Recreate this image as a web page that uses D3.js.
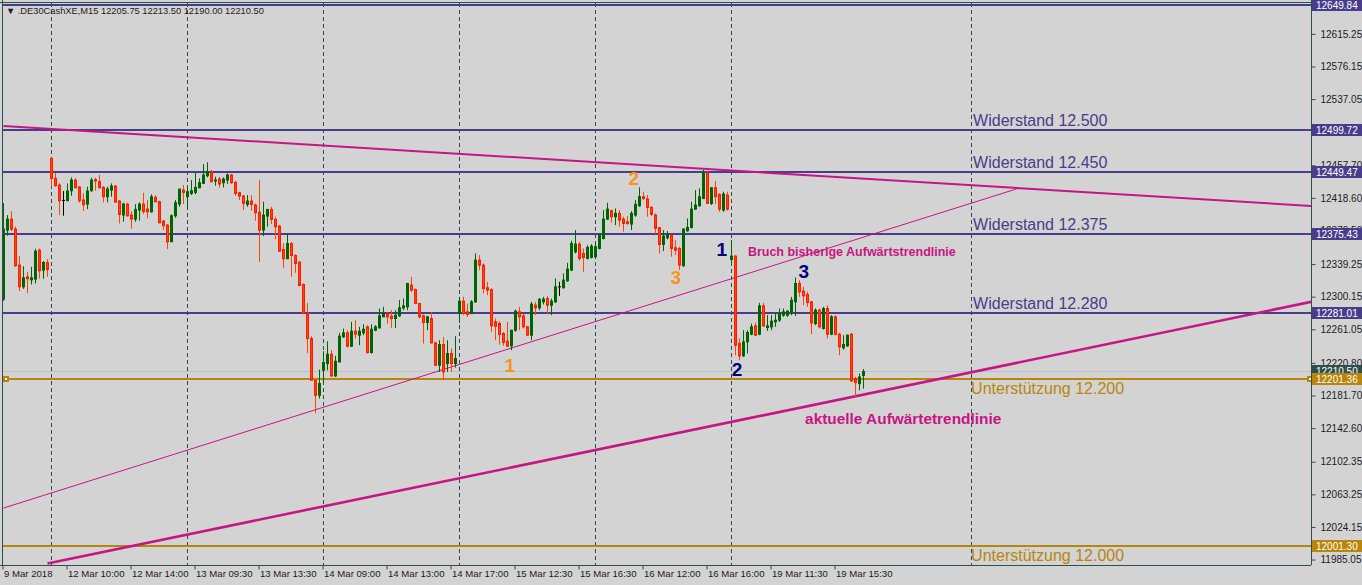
<!DOCTYPE html>
<html><head><meta charset="utf-8">
<script src="https://cdn.jsdelivr.net/npm/d3@7"></script>
<style>
html,body{margin:0;padding:0;background:#d3d3d3;overflow:hidden}
text{font-family:"Liberation Sans",Arial,sans-serif}
</style>
</head><body>
<svg id="chart" width="1362" height="585"></svg>
<script>
// ---------- DATA (DE30, M15) ----------
const opens=[
12297.2,12380,12393.2,12381.2,12338,12312,12324,12320.4,12321.2,12356,12332,12341.2,
12466,12442,12434,12415.6,12415.2,12427.2,12440,12431.6,12416,12411.2,12427.2,12440.4,
12438,12431.2,12420,12428,12432.8,12414.8,12398,12411.2,12398,12393.2,12404,12411.2,
12405.2,12402,12419.2,12414,12390.8,12386,12366,12397.2,12411.2,12428,12420,12424,
12425.2,12430.8,12436,12445.2,12450,12438.8,12441.2,12436.8,12440,12446,12437.2,12424.8,
12420.8,12410.8,12414.8,12410,12401.2,12380,12396.8,12404.8,12392.8,12384.8,12356.8,12345.6,
12364,12349.6,12341.6,12314.8,12280,12250,12200,12182,12212,12220,12231.2,12205.2,
12222,12252,12256.8,12240.8,12258.8,12254,12256.8,12264,12233.2,12260,12262.8,12276,
12280,12276.8,12274,12277.2,12286.8,12288,12314,12308.8,12292,12277.2,12269.2,12274,
12244.8,12218,12242.8,12220,12232,12220,12280,12294.8,12282,12280,12294,12344,
12338,12310.8,12308.8,12270,12268,12256,12246.8,12241.2,12260,12282,12277.2,12264,
12254,12290,12286.8,12294,12298,12290,12294,12312,12310.8,12319.2,12332,12354,
12363.2,12352,12346,12347.2,12348,12358,12370,12393.2,12403.2,12396,12400,12393.2,
12390,12387.2,12398,12409.2,12420,12417.2,12407.2,12398,12382.8,12362.8,12370.8,12374,
12358.8,12358,12337.2,12379.2,12383.2,12405.2,12409.2,12418,12448,12412,12430.8,12422.8,
12404,12422,12344.8,12348.8,12244,12229.2,12246,12255.2,12265.2,12255.2,12289.2,12263.2,
12264,12270,12272,12278,12278,12282,12294,12316,12306.8,12302.8,12294,12268,
12284,12262,12286,12255.2,12276,12255.2,12238.8,12241.2,12255.2,12202,12196,12205.75];
const highs=[
12412.4,12398,12402.8,12384,12348.8,12336.8,12330,12336,12357.6,12358,12342.8,12345.2,
12468,12448.8,12436,12426.8,12436,12443.2,12442,12432.8,12424,12432,12442.8,12442.8,
12446,12432.8,12432,12436,12434,12416,12412.8,12412.8,12402.8,12411.2,12413.2,12424.8,
12416,12422.8,12422,12415.2,12392,12387.2,12398.8,12416,12429.2,12434,12432,12440,
12448.8,12442,12459.2,12461.2,12452,12444,12444,12443.2,12448,12447.2,12439.2,12426,
12422,12422,12422,12412,12440,12414,12404.8,12408,12396,12386,12364,12375.2,
12365.6,12350.8,12342.8,12316,12292.8,12252.8,12200,12212.8,12234.8,12246.8,12236,12229.2,
12256.8,12262,12260,12270,12272,12264,12267.2,12266,12267.2,12266,12286,12288,
12281.2,12284,12284,12296,12298,12316.8,12324,12310,12292.8,12278.8,12277.2,12282,
12246,12248,12252,12248,12238,12252.8,12300,12300,12292,12296,12352,12350,
12340,12318,12310,12274,12270.8,12258,12270,12260,12284.8,12288,12280,12265.2,
12294,12294,12298,12300,12301.2,12298,12322,12318,12328,12340.8,12367.2,12380,
12366,12358,12362,12363.2,12363.2,12376,12404,12412.8,12404.8,12406,12404,12396,
12396.8,12402.8,12416,12431.2,12426,12422,12408.8,12400,12384,12380,12378.8,12374.8,
12368,12360,12382,12394,12414,12428,12430,12452,12450,12430.8,12438.8,12424,
12426,12426,12368,12350,12250,12260,12260,12268,12269.2,12292.8,12292.8,12278,
12278,12280,12286,12286,12284,12300,12323.2,12320,12312,12306,12294.8,12286,
12286,12288,12290,12278,12278,12256.8,12254,12254.8,12256.8,12204,12208,12213.5];
const lows=[
12295.2,12373.2,12378.8,12336,12306.8,12309.6,12304.4,12314.8,12316,12322,12321.6,12324,
12432,12432,12398,12397.2,12415.2,12421.2,12430,12412.8,12402.8,12405.2,12426,12427.2,
12430,12413.2,12413.2,12420,12412.8,12388,12390,12396,12381.6,12390,12391.2,12399.2,
12394,12400.8,12413.2,12388,12380,12357.2,12366,12394.8,12408,12411.2,12406,12422,
12422.8,12430,12435.2,12443.2,12437.2,12433.2,12430.8,12431.2,12435.2,12435.2,12421.2,12416,
12404,12408,12403.2,12391.2,12342,12372.8,12384,12387.2,12368.8,12354,12334.8,12345.6,
12324,12328.8,12312.8,12279.2,12232.8,12200,12160.4,12178,12196.8,12212,12204,12204,
12221.2,12250.8,12239.2,12240,12250,12242,12254,12232,12232,12258.8,12262,12276,
12268,12262.8,12262.8,12276,12284,12284,12306,12291.2,12274,12244,12260,12244,
12216.8,12210,12200,12210,12210,12215.2,12268.8,12278,12276,12279.2,12292.8,12332,
12304,12302,12258,12248,12242.8,12241.2,12240,12236,12258,12260,12262,12253.2,
12248,12278,12284,12290.8,12280,12278,12292.8,12301.2,12310,12318,12331.2,12352,
12343.2,12330,12344.8,12346,12347.2,12356.8,12368.8,12392,12388.8,12386,12384,12378,
12386,12380,12396,12408,12416,12396,12397.2,12375.2,12352,12354.8,12368.8,12348,
12350,12332,12336,12378,12382,12404,12408,12417.2,12411.2,12410,12411.2,12402,
12402,12403.2,12340,12230,12224,12228,12232,12254,12253.2,12254,12264,12259.2,
12260,12264,12270,12276,12276,12278,12277.2,12300,12290,12288,12255.2,12266,
12262,12260.8,12250,12254,12254,12230,12236.8,12240,12198,12179.2,12188,12190];
const closes=[
12381.2,12393.2,12381.2,12337.2,12312,12322.8,12321.6,12322.8,12354.8,12331.2,12341.2,12332.8,
12442,12433.2,12415.2,12415.6,12426.8,12440,12430.8,12415.2,12410.4,12426.8,12440,12438.8,
12430.8,12420,12429.2,12432.8,12413.6,12398.8,12411.2,12397.2,12393.2,12404.8,12411.2,12402.4,
12402,12420,12414,12388.8,12385.2,12366,12397.2,12412.8,12429.2,12425.2,12426,12427.2,
12431.2,12436.8,12446,12450,12438,12440,12435.2,12441.2,12446,12436.8,12424,12420.8,
12412,12414.8,12410.8,12400.8,12380,12398,12404.8,12392.8,12384,12354.8,12345.6,12364,
12349.6,12340,12313.6,12280,12250,12200,12182,12196,12221.2,12231.2,12205.2,12222.8,
12252.8,12256.8,12240.8,12258.8,12255.2,12258.8,12261.2,12233.2,12261.2,12264,12277.2,12280,
12276,12274,12278,12286.8,12289.2,12316,12308,12292,12276,12269.2,12276,12244.8,
12218,12242.8,12210,12232,12220,12226,12294.8,12280,12278.8,12294,12344,12338,
12310,12308,12265.2,12264.8,12254.8,12245.2,12240.8,12260,12282.8,12276,12264,12254,
12291.2,12286.8,12297.2,12297.2,12290,12294.8,12312,12312,12320,12333.2,12364,12363.2,
12346,12347.2,12359.2,12360.8,12360,12374,12393.2,12405.2,12396,12400,12392,12388,
12388,12400,12410.8,12420,12418,12407.2,12398.8,12382,12362.8,12372.8,12374,12358,
12356,12338,12381.2,12383.2,12405.2,12410,12420,12448,12412,12430.8,12420,12405.2,
12423.2,12405.2,12348.8,12242,12229.2,12246,12257.2,12264,12254,12289.2,12265.2,12265.2,
12270.8,12272,12278.8,12282,12282.8,12296,12316,12306,12301.2,12293.2,12268.8,12284,
12264,12286,12255.2,12276,12254.8,12240,12242.8,12254,12199.2,12197.2,12204,12210.5];

const timeTickIdx=[0,16,32,48,64,80,96,112,128,144,160,176,192,208];
const timeLabels=["9 Mar 2018","12 Mar 10:00","12 Mar 14:00","13 Mar 09:30","13 Mar 13:30","14 Mar 09:00","14 Mar 13:00","14 Mar 17:00","15 Mar 12:30","15 Mar 16:30","16 Mar 12:00","16 Mar 16:00","19 Mar 11:30","19 Mar 15:30"];
const separatorIdx=[12,46,80,114,148,182,242];
const priceTicks=[12615.25,12576.15,12537.05,12497.95,12457.70,12418.60,12379.50,12339.25,12300.15,12261.05,12220.80,12181.70,12142.60,12102.35,12063.25,12024.15,11985.05];
const resistLevels=[12649.84,12499.72,12449.47,12375.43,12281.01];
const supportLevels=[12201.36,12001.30];
const resistTexts=["","Widerstand 12.500","Widerstand 12.450","Widerstand 12.375","Widerstand 12.280"];
const supportTexts=["Unterstützung 12.200","Unterstützung 12.000"];
const bidPrice=12210.50;
const header="▼ .DE30CashXE,M15  12205.75 12213.50 12190.00 12210.50";
// trend lines: [idx, price] pairs
const trendDown=[[0,12504.8],[330,12408.0]];
const trendOld=[[0,12046.8],[254,12430.5]];
const trendNow=[[11,11980.3],[330,12297.0]];
// wave labels
const orangeWave={labels:["1","2","3"],idx:[126.6,157.6,168.1],price:[12218.3,12442.4,12323.8]};
const navyWave={labels:["1","2","3"],idx:[179.6,183.4,200.1],price:[12357.3,12213.5,12331.0]};
const notes=[{t:"Bruch bisherige Aufwärtstrendlinie",idx:186.1,price:12354.9,size:12.5},
             {t:"aktuelle Aufwärtetrendlinie",idx:200.4,price:12154.7,size:15.4}];
const labelIdx=242.4;

// ---------- DRAW ----------
const W=1362,H=585, L=3, R=1311, T=3, B=565;
const svg=d3.select("#chart");
const x=d3.scaleLinear().domain([0,1]).range([3.5,7.5]);
const y=d3.scaleLinear().domain([12649.84,12001.30]).range([5,546]);
const C={bg:"#d3d3d3",frame:"#2f4f4f",res:"#483d8b",sup:"#b8860b",trend:"#c71585",bull:"#006400",bear:"#ff4500",bearEdge:"#ff1a00",orange:"#f7931e",navy:"#000080"};

svg.append("rect").attr("width",W).attr("height",H).attr("fill",C.bg);
svg.append("defs").append("clipPath").attr("id","plot").append("rect")
  .attr("x",L).attr("y",T).attr("width",R-L).attr("height",B-T);
const plot=svg.append("g").attr("clip-path","url(#plot)");

// separators
plot.selectAll("line.sep").data(separatorIdx).enter().append("line")
  .attr("x1",d=>Math.round(x(d))-0.5).attr("x2",d=>Math.round(x(d))-0.5)
  .attr("y1",T).attr("y2",B).attr("stroke",C.frame).attr("stroke-width",1).attr("stroke-dasharray","4,3");

// bid line
plot.append("line").attr("x1",L).attr("x2",R).attr("y1",Math.round(y(bidPrice))+0.5).attr("y2",Math.round(y(bidPrice))+0.5)
  .attr("stroke","#c0c0c0").attr("stroke-width",1);

// horizontal levels
plot.selectAll("line.res").data(resistLevels).enter().append("line")
  .attr("x1",L).attr("x2",R).attr("y1",d=>Math.round(y(d))).attr("y2",d=>Math.round(y(d)))
  .attr("stroke",C.res).attr("stroke-width",2);
plot.selectAll("line.sup").data(supportLevels).enter().append("line")
  .attr("x1",L).attr("x2",R).attr("y1",d=>Math.round(y(d))).attr("y2",d=>Math.round(y(d)))
  .attr("stroke",C.sup).attr("stroke-width",2);

// trend lines
const ln=d3.line().x(d=>x(d[0])).y(d=>y(d[1]));
plot.append("path").attr("d",ln(trendDown)).attr("fill","none").attr("stroke",C.trend).attr("stroke-width",2);
plot.append("path").attr("d",ln(trendOld)).attr("fill","none").attr("stroke",C.trend).attr("stroke-width",1);
plot.append("path").attr("d",ln(trendNow)).attr("fill","none").attr("stroke",C.trend).attr("stroke-width",2.6);

// candles
const idx=d3.range(opens.length);
const cg=plot.append("g");
idx.forEach(i=>{
  const o=opens[i],h=highs[i],l=lows[i],c=closes[i];
  const col=c>o?C.bull:(c<o?C.bear:"#000");
  const cx=Math.round(x(i))-0.5;
  cg.append("line").attr("x1",cx).attr("x2",cx).attr("y1",y(h)).attr("y2",y(l))
    .attr("stroke",col).attr("stroke-width",1);
  const top=y(Math.max(o,c)), bot=y(Math.min(o,c));
  if(c===o){
    cg.append("line").attr("x1",cx-1.5).attr("x2",cx+1.5).attr("y1",top).attr("y2",top).attr("stroke","#000").attr("stroke-width",1);
  } else {
    cg.append("rect").attr("x",cx-1).attr("y",top).attr("width",2).attr("height",Math.max(1,bot-top))
      .attr("fill",col).attr("stroke",c>o?C.bull:C.bearEdge).attr("stroke-width",1);
  }
});

// texts on chart
svg.selectAll("text.rt").data(resistLevels.map((p,i)=>({p,t:resistTexts[i]})).filter(d=>d.t)).enter().append("text")
  .attr("x",x(labelIdx)).attr("y",d=>y(d.p)-4).attr("fill",C.res).attr("font-size",16).text(d=>d.t);
svg.selectAll("text.st").data(supportLevels.map((p,i)=>({p,t:supportTexts[i]}))).enter().append("text")
  .attr("x",x(labelIdx)-2).attr("y",d=>y(d.p)+15).attr("fill",C.sup).attr("font-size",16).text(d=>d.t);
[[orangeWave,C.orange],[navyWave,C.navy]].forEach(([w,col])=>{
  w.labels.forEach((t,i)=>{
    svg.append("text").attr("x",x(w.idx[i])).attr("y",y(w.price[i])).attr("dy","0.36em")
      .attr("text-anchor","middle").attr("font-size",19).attr("font-weight","bold").attr("fill",col).text(t);
  });
});
notes.forEach(n=>{
  svg.append("text").attr("x",x(n.idx)).attr("y",y(n.price)).attr("dy","0.36em")
    .attr("font-size",n.size).attr("font-weight","bold").attr("fill",C.trend).text(n.t);
});

// selection handles on 12201.36 line
[L+3,R-1].forEach(hx=>{
  svg.append("rect").attr("x",hx-3).attr("y",Math.round(y(supportLevels[0]))-3).attr("width",6).attr("height",6)
    .attr("fill",C.sup);
  svg.append("rect").attr("x",hx-1).attr("y",Math.round(y(supportLevels[0]))-1).attr("width",2).attr("height",2)
    .attr("fill","#fff");
});

// frame
svg.append("line").attr("x1",2.5).attr("x2",2.5).attr("y1",0).attr("y2",B).attr("stroke",C.frame);
svg.append("line").attr("x1",0).attr("x2",R).attr("y1",2.5).attr("y2",2.5).attr("stroke",C.frame);

// right price axis
const ya=d3.axisRight(y).tickValues(priceTicks).tickFormat(d3.format(".2f")).tickSize(4).tickPadding(5);
const yag=svg.append("g").attr("transform",`translate(${R+0.5},0)`).call(ya);
yag.select(".domain").attr("d",`M0,0V${B}`).attr("stroke",C.frame);
yag.selectAll(".tick line").attr("stroke",C.frame);
yag.selectAll(".tick text").attr("fill","#1c1c1c").attr("font-size",10).attr("font-family","Liberation Sans, Arial");

// bottom time axis
const xa=d3.axisBottom(x).tickValues(timeTickIdx).tickFormat((d,i)=>timeLabels[i]).tickSize(4);
const xag=svg.append("g").attr("transform",`translate(-1,${B+0.5})`).call(xa);
xag.select(".domain").attr("d",`M0,0H${R+1}`).attr("stroke",C.frame);
xag.selectAll(".tick line").attr("stroke",C.frame);
xag.selectAll(".tick text").attr("text-anchor","start").attr("x",1).attr("y",5).attr("dy","0.71em")
  .attr("fill","#1c1c1c").attr("font-size",9.6).attr("font-family","Liberation Sans, Arial");

// price boxes
function box(p,bg){
  const yy=Math.round(y(p));
  svg.append("rect").attr("x",R+1).attr("y",yy-6).attr("width",W-R-1).attr("height",12).attr("fill",bg);
  svg.append("text").attr("x",R+5).attr("y",yy+4).attr("fill","#fff").attr("font-size",10).text(d3.format(".2f")(p));
}
resistLevels.forEach(p=>box(p,C.res));
box(bidPrice,C.frame);
box(supportLevels[0],C.sup);
box(supportLevels[1],C.sup);

// header
svg.append("text").attr("x",6).attr("y",14).attr("font-size",9.3).attr("fill","#1c1c1c").text(header);
</script>
</body></html>
